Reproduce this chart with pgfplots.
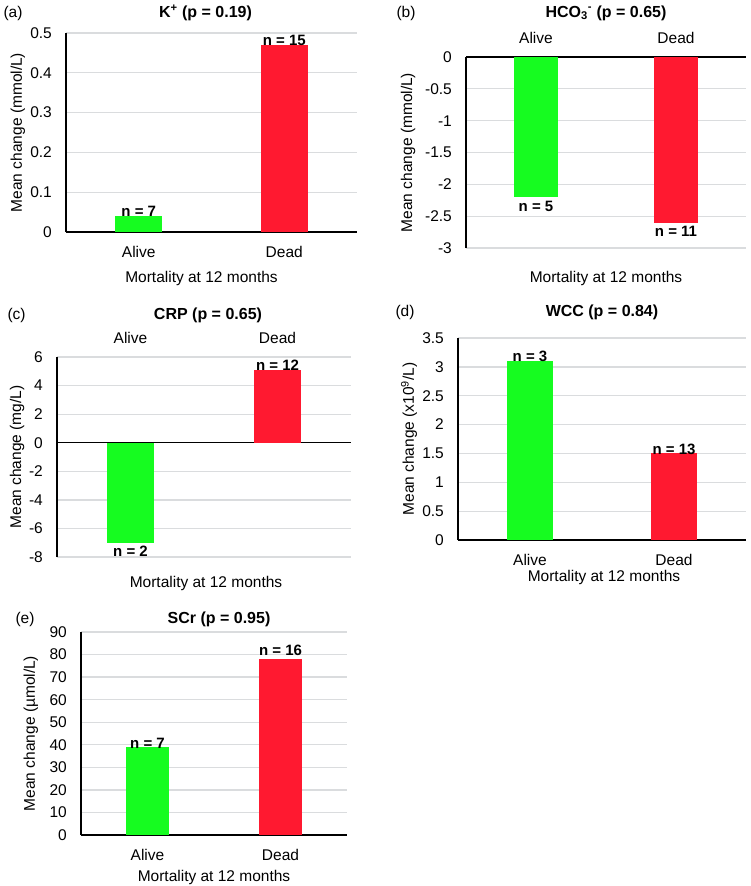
\documentclass[border=0pt]{standalone}
\usepackage{pgfplots}
\pgfplotsset{compat=1.18}
\usepackage{fontspec}
\setmainfont{Liberation Sans}
\definecolor{alive}{RGB}{22,252,32}
\definecolor{dead}{RGB}{255,25,48}
\definecolor{gridc}{RGB}{218,220,222}
\newcommand{\fnt}{\fontsize{15.5}{18}\selectfont}
\newcommand{\bfnt}{\fontsize{15}{18}\selectfont\bfseries}
\pgfplotsset{
  panel/.style={
    scale only axis, anchor=south west,
    xmin=-0.5, xmax=1.5, xtick={0,1}, xticklabels={Alive,Dead},
    ybar, bar width=0.32, bar shift=0pt,
    axis y line*=left,
    x axis line style={draw=none},
    y axis line style={black, line width=1.4pt},
    ymajorgrids, major grid style={gridc, line width=1.3pt},
    major tick length=0pt,
    tick label style={font=\fnt, inner sep=0pt},
    /pgf/number format/assume math mode=true,
    /pgf/number format/fixed,
    yticklabel style={anchor=east, xshift=-14pt},
    extra y ticks={0}, extra y tick labels={},
    extra y tick style={ymajorgrids=true, major grid style={black, line width=1.4pt}},
    label style={font=\fnt},
    title style={font=\fontsize{16}{19}\selectfont\bfseries, at={(axis description cs:0.5,1)}, anchor=center},
    xlabel={Mortality at 12 months},
    nodes near coords, point meta=explicit symbolic,
    every node near coord/.append style={font=\bfnt, inner sep=0pt, text=black},
  },
  pos/.style={every node near coord/.append style={anchor=south, yshift=-1pt}},
  neg/.style={every node near coord/.append style={anchor=north, yshift=-3.6pt}},
  bottomx/.style={axis x line*=bottom, xticklabel style={anchor=center, yshift=-20pt}},
  topx/.style={axis x line*=top, xticklabel style={anchor=center, yshift=19pt}},
}
\begin{document}
\begin{tikzpicture}
\useasboundingbox (0pt,0pt) rectangle (750pt,-886pt);
\tikzset{lett/.style={anchor=west, font=\fnt}}
\node[lett] at (0pt,-13pt) {(a)};
\node[lett] at (393pt,-13pt) {(b)};
\node[lett] at (4pt,-315pt) {(c)};
\node[lett] at (392pt,-312pt) {(d)};
\node[lett] at (12pt,-619pt) {(e)};

% (a)
\begin{axis}[panel, bottomx, at={(66pt,-232pt)}, width=291pt, height=199pt,
  ymin=0, ymax=0.5, ytick={0,0.1,0.2,0.3,0.4,0.5},
  title={K\textsuperscript{+} (p = 0.19)}, title style={yshift=14pt, xshift=-6pt},
  ylabel={Mean change (mmol/L)}, ylabel style={at={(axis description cs:-0.165,0.5)}, anchor=center},
  xlabel style={at={(axis description cs:0.5,0)}, anchor=center, yshift=-46pt, xshift=-10pt}]
\addplot[fill=alive, draw=none, pos] coordinates {(0,0.04) [n = 7]};
\addplot[fill=dead, draw=none, pos] coordinates {(1,0.47) [n = 15]};
\end{axis}

% (b)
\begin{axis}[panel, topx, at={(466pt,-248pt)}, width=280pt, height=191pt,
  ymin=-3, ymax=0, ytick={-3,-2.5,-2,-1.5,-1,-0.5,0},
  title={HCO\textsubscript{3}\textsuperscript{-} (p = 0.65)}, title style={yshift=38pt},
  ylabel={Mean change (mmol/L)}, ylabel style={at={(axis description cs:-0.207,0.5)}, anchor=center},
  xlabel style={at={(axis description cs:0.5,0)}, anchor=center, yshift=-30pt}]
\addplot[fill=alive, draw=none, neg] coordinates {(0,-2.2) [n = 5]};
\addplot[fill=dead, draw=none, neg] coordinates {(1,-2.6) [n = 11]};
\end{axis}

% (c)
\begin{axis}[panel, topx, at={(57pt,-557pt)}, width=294pt, height=200pt,
  ymin=-8, ymax=6, ytick={-8,-6,-4,-2,0,2,4,6},
  title={CRP (p = 0.65)}, title style={yshift=36pt, xshift=4pt},
  ylabel={Mean change (mg/L)}, ylabel style={at={(axis description cs:-0.136,0.5)}, anchor=center},
  xlabel style={at={(axis description cs:0.5,0)}, anchor=center, yshift=-26pt, xshift=2pt}]
\addplot[fill=alive, draw=none, neg] coordinates {(0,-7) [n = 2]};
\addplot[fill=dead, draw=none, pos] coordinates {(1,5.1) [n = 12]};
\end{axis}

% (d)
\begin{axis}[panel, bottomx, at={(458pt,-540pt)}, width=288pt, height=202pt,
  ymin=0, ymax=3.5, ytick={0,0.5,1,1.5,2,2.5,3,3.5},
  title={WCC (p = 0.84)}, title style={yshift=20pt},
  ylabel={Mean change (x10\textsuperscript{9}/L)}, ylabel style={at={(axis description cs:-0.170,0.5)}, anchor=center},
  xlabel style={at={(axis description cs:0.5,0)}, anchor=center, yshift=-37pt, xshift=2pt}]
\addplot[fill=alive, draw=none, pos] coordinates {(0,3.1) [n = 3]};
\addplot[fill=dead, draw=none, pos] coordinates {(1,1.5) [n = 13]};
\end{axis}

% (e)
\begin{axis}[panel, bottomx, at={(81pt,-835pt)}, width=266pt, height=203pt,
  ymin=0, ymax=90, ytick={0,10,20,30,40,50,60,70,80,90},
  title={SCr (p = 0.95)}, title style={yshift=7pt, xshift=5pt},
  ylabel={Mean change (µmol/L)}, ylabel style={at={(axis description cs:-0.188,0.5)}, anchor=center},
  xlabel style={at={(axis description cs:0.5,0)}, anchor=center, yshift=-42pt}]
\addplot[fill=alive, draw=none, pos] coordinates {(0,38.8) [n = 7]};
\addplot[fill=dead, draw=none, pos, every node near coord/.append style={yshift=4pt}] coordinates {(1,78) [n = 16]};
\end{axis}
\end{tikzpicture}
\end{document}
